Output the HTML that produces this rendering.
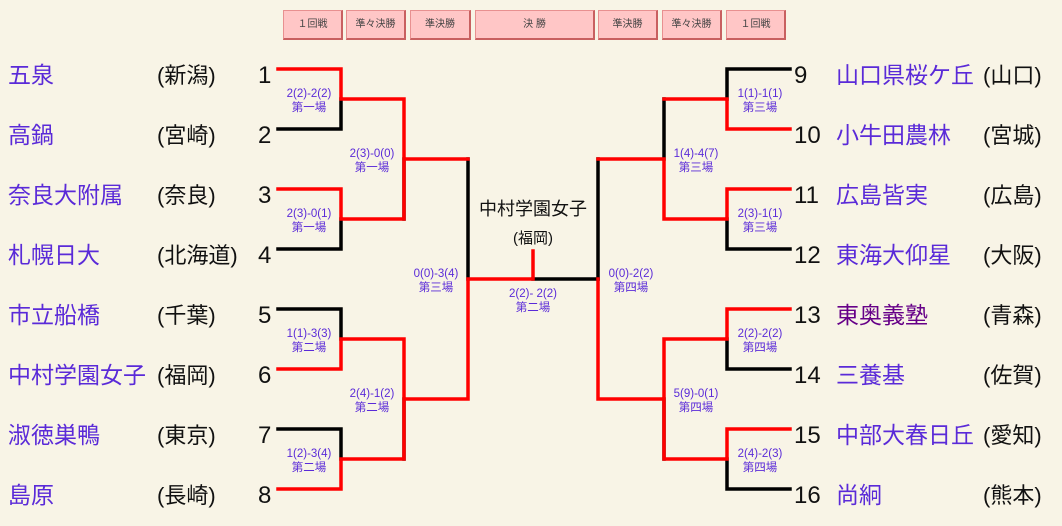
<!DOCTYPE html>
<html><head><meta charset="utf-8"><style>
html,body{margin:0;padding:0;background:#f8f4e6;}
body{width:1062px;height:526px;position:relative;overflow:hidden;font-family:"Liberation Sans","Noto Sans CJK JP",sans-serif;}
.b{position:absolute;top:10px;height:30px;background:#ffc6c6;border:1px solid #e89090;border-right:2px solid #c86060;border-bottom:2px solid #c86060;box-sizing:border-box;font-size:10px;color:#444;text-align:center;line-height:27px;}
</style></head><body>
<div class="b" style="left:283px;width:60px">１回戦</div>
<div class="b" style="left:346px;width:60px">準々決勝</div>
<div class="b" style="left:410px;width:61px">準決勝</div>
<div class="b" style="left:475px;width:120px">決 勝</div>
<div class="b" style="left:598px;width:60px">準決勝</div>
<div class="b" style="left:662px;width:60px">準々決勝</div>
<div class="b" style="left:726px;width:60px">１回戦</div>
<svg width="1062" height="526" style="position:absolute;left:0;top:0" font-family="Liberation Sans, Noto Sans CJK JP, sans-serif">
<g stroke="#000" stroke-width="3.5" fill="none" stroke-linecap="square">
<path d="M341 99V129H278M341 219V249H278M404 159V219M278 309H341V339M278 429H341V459M404 399V459M468 159V279M533 279H598"/>
<path d="M790 69H727V99M727 219V249H790M664 99V159M727 339V369H790M727 459V489H790M664 399V459M598 159V279"/>
</g>
<g stroke="#f00" stroke-width="3.5" fill="none" stroke-linecap="square">
<path d="M278 69H341V99H404V159H468M278 189H341V219H404V159M341 339V369H278M341 339H404V399H468M341 459V489H278M341 459H404V399M468 279V399M468 279H533V251"/>
<path d="M727 99V129H790M727 99H664M790 189H727V219H664V159H598M790 309H727V339H664V399H598M790 429H727V459H664V399M598 279V399"/>
</g>
<g fill="#5a2ad8" font-size="23">
<text x="8" y="83">五泉</text><text x="8" y="143">高鍋</text><text x="8" y="203">奈良大附属</text><text x="8" y="263">札幌日大</text>
<text x="8" y="323">市立船橋</text><text x="8" y="383">中村学園女子</text><text x="8" y="443">淑徳巣鴨</text><text x="8" y="503">島原</text>
<text x="836" y="83">山口県桜ケ丘</text><text x="836" y="143">小牛田農林</text><text x="836" y="203">広島皆実</text><text x="836" y="263">東海大仰星</text>
<text x="836" y="323" fill="#660088">東奥義塾</text><text x="836" y="383">三養基</text><text x="836" y="443">中部大春日丘</text><text x="836" y="503">尚絅</text>
</g>
<g fill="#111" font-size="22">
<text x="157" y="83">(新潟)</text><text x="157" y="143">(宮崎)</text><text x="157" y="203">(奈良)</text><text x="157" y="263">(北海道)</text>
<text x="157" y="323">(千葉)</text><text x="157" y="383">(福岡)</text><text x="157" y="443">(東京)</text><text x="157" y="503">(長崎)</text>
<text x="983" y="83">(山口)</text><text x="983" y="143">(宮城)</text><text x="983" y="203">(広島)</text><text x="983" y="263">(大阪)</text>
<text x="983" y="323">(青森)</text><text x="983" y="383">(佐賀)</text><text x="983" y="443">(愛知)</text><text x="983" y="503">(熊本)</text>
</g>
<g fill="#111" font-size="24">
<text x="258" y="83">1</text><text x="258" y="143">2</text><text x="258" y="203">3</text><text x="258" y="263">4</text>
<text x="258" y="323">5</text><text x="258" y="383">6</text><text x="258" y="443">7</text><text x="258" y="503">8</text>
<text x="794" y="83">9</text><text x="794" y="143">10</text><text x="794" y="203">11</text><text x="794" y="263">12</text>
<text x="794" y="323">13</text><text x="794" y="383">14</text><text x="794" y="443">15</text><text x="794" y="503">16</text>
</g>
<g fill="#111" text-anchor="middle">
<text x="533" y="215" font-size="18">中村学園女子</text>
<text x="533" y="243" font-size="15">(福岡)</text>
</g>
<g fill="#5a2ad8" font-size="11.5" text-anchor="middle">
<text x="309" y="97">2(2)-2(2)</text><text x="309" y="111">第一場</text>
<text x="309" y="217">2(3)-0(1)</text><text x="309" y="231">第一場</text>
<text x="309" y="337">1(1)-3(3)</text><text x="309" y="351">第二場</text>
<text x="309" y="457">1(2)-3(4)</text><text x="309" y="471">第二場</text>
<text x="372" y="157">2(3)-0(0)</text><text x="372" y="171">第一場</text>
<text x="372" y="397">2(4)-1(2)</text><text x="372" y="411">第二場</text>
<text x="436" y="277">0(0)-3(4)</text><text x="436" y="291">第三場</text>
<text x="533" y="297">2(2)- 2(2)</text><text x="533" y="311">第二場</text>
<text x="631" y="277">0(0)-2(2)</text><text x="631" y="291">第四場</text>
<text x="696" y="157">1(4)-4(7)</text><text x="696" y="171">第三場</text>
<text x="696" y="397">5(9)-0(1)</text><text x="696" y="411">第四場</text>
<text x="760" y="97">1(1)-1(1)</text><text x="760" y="111">第三場</text>
<text x="760" y="217">2(3)-1(1)</text><text x="760" y="231">第三場</text>
<text x="760" y="337">2(2)-2(2)</text><text x="760" y="351">第四場</text>
<text x="760" y="457">2(4)-2(3)</text><text x="760" y="471">第四場</text>
</g>
</svg>
</body></html>
